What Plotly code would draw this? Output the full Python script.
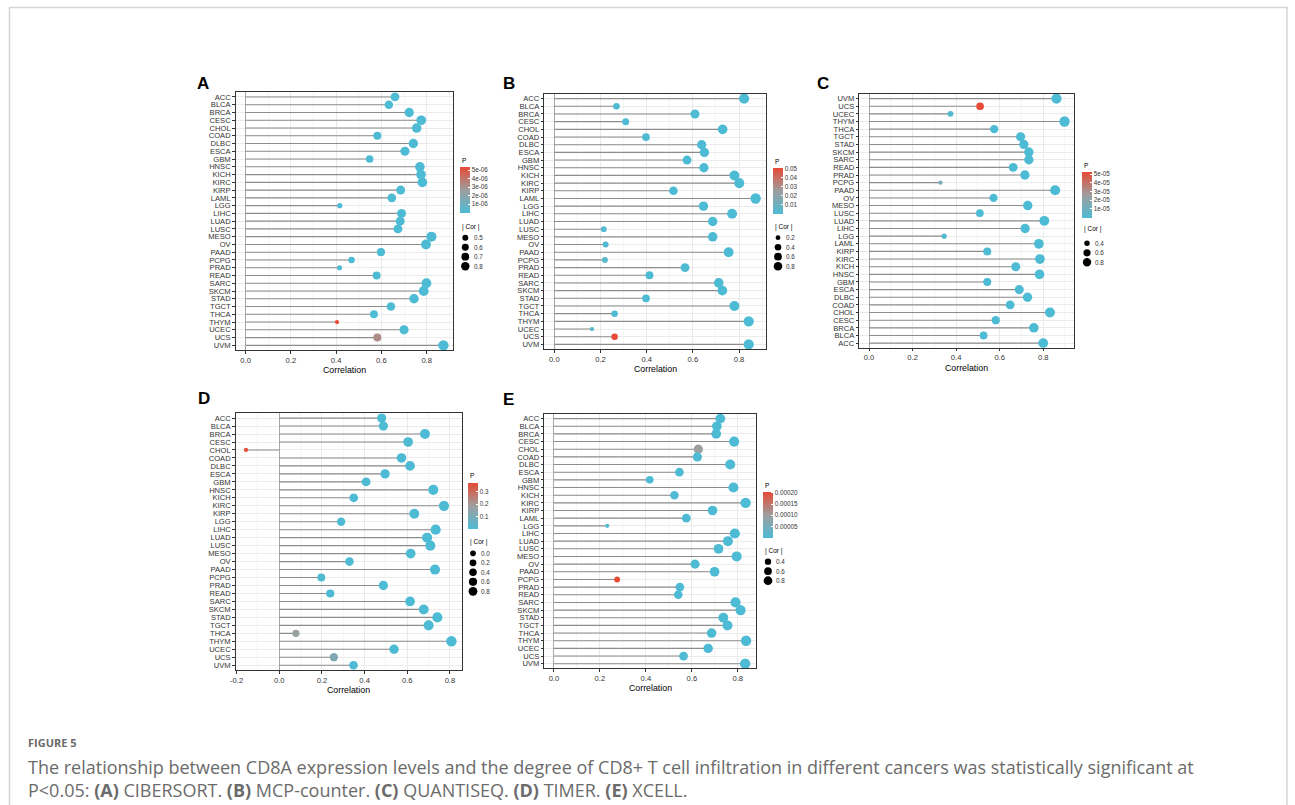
import plotly.graph_objects as go

W, H = 1295, 805
FONT = "Liberation Sans, Arial, Helvetica, sans-serif"
CAP_FONT = "Open Sans, sans-serif"

# ---------------- data ----------------
cats_A = ["ACC", "BLCA", "BRCA", "CESC", "CHOL", "COAD", "DLBC", "ESCA", "GBM", "HNSC", "KICH",
          "KIRC", "KIRP", "LAML", "LGG", "LIHC", "LUAD", "LUSC", "MESO", "OV", "PAAD", "PCPG",
          "PRAD", "READ", "SARC", "SKCM", "STAD", "TGCT", "THCA", "THYM", "UCEC", "UCS", "UVM"]
cor_A = [0.660, 0.633, 0.723, 0.776, 0.756, 0.582, 0.741, 0.704, 0.548, 0.770, 0.775,
         0.781, 0.685, 0.646, 0.416, 0.689, 0.683, 0.673, 0.821, 0.797, 0.598, 0.468,
         0.415, 0.579, 0.799, 0.787, 0.744, 0.642, 0.567, 0.404, 0.700, 0.582, 0.874]
p_A = [2e-08, 1e-09, 1e-12, 1e-10, 3e-08, 1e-10, 5e-08, 1e-10, 1e-09, 1e-12, 1e-08,
       1e-12, 1e-10, 1e-09, 1e-08, 1e-11, 1e-12, 1e-11, 1e-10, 1e-10, 1e-09, 1e-08,
       1e-08, 1e-09, 1e-11, 1e-12, 1e-12, 1e-09, 1e-10, 5.4e-06, 1e-11, 3.3e-06, 1e-09]

cats_B = ["ACC", "BLCA", "BRCA", "CESC", "CHOL", "COAD", "DLBC", "ESCA", "GBM", "HNSC", "KICH",
          "KIRC", "KIRP", "LAML", "LGG", "LIHC", "LUAD", "LUSC", "MESO", "OV", "PAAD", "PCPG",
          "PRAD", "READ", "SARC", "SKCM", "STAD", "TGCT", "THCA", "THYM", "UCEC", "UCS", "UVM"]
cor_B = [0.822, 0.269, 0.609, 0.309, 0.729, 0.397, 0.638, 0.650, 0.575, 0.648, 0.780,
         0.801, 0.516, 0.872, 0.646, 0.770, 0.686, 0.214, 0.686, 0.222, 0.755, 0.219,
         0.566, 0.412, 0.712, 0.728, 0.397, 0.780, 0.261, 0.842, 0.163, 0.261, 0.842]
p_B = [1e-06, 1e-04, 1e-08, 2e-04, 1e-06, 1e-05, 1e-04, 1e-08, 1e-08, 1e-10, 1e-05,
       1e-10, 1e-08, 1e-10, 1e-10, 1e-10, 1e-10, 2e-03, 1e-08, 1.5e-03, 1e-10, 3e-03,
       1e-10, 1e-05, 1e-10, 1e-10, 1e-08, 1e-10, 1e-04, 1e-10, 4e-03, 0.0507, 1e-10]

cats_C = ["UVM", "UCS", "UCEC", "THYM", "THCA", "TGCT", "STAD", "SKCM", "SARC", "READ", "PRAD",
          "PCPG", "PAAD", "OV", "MESO", "LUSC", "LUAD", "LIHC", "LGG", "LAML", "KIRP", "KIRC",
          "KICH", "HNSC", "GBM", "ESCA", "DLBC", "COAD", "CHOL", "CESC", "BRCA", "BLCA", "ACC"]
cor_C = [0.861, 0.510, 0.374, 0.898, 0.575, 0.696, 0.711, 0.734, 0.734, 0.662, 0.716,
         0.328, 0.855, 0.572, 0.729, 0.509, 0.805, 0.717, 0.345, 0.780, 0.543, 0.785,
         0.674, 0.783, 0.543, 0.690, 0.728, 0.648, 0.831, 0.582, 0.757, 0.526, 0.800]
p_C = [1e-09, 5.27e-05, 2e-06, 1e-10, 1e-08, 1e-09, 1e-10, 1e-10, 1e-10, 1e-08, 1e-10,
       1.4e-05, 1e-10, 1e-09, 1e-09, 1e-10, 1e-10, 1e-10, 3e-06, 1e-10, 1e-09, 1e-10,
       1e-08, 1e-10, 1e-10, 1e-10, 1e-09, 1e-10, 1e-09, 1e-10, 1e-10, 1e-10, 1e-08]

cats_D = ["ACC", "BLCA", "BRCA", "CESC", "CHOL", "COAD", "DLBC", "ESCA", "GBM", "HNSC", "KICH",
          "KIRC", "KIRP", "LGG", "LIHC", "LUAD", "LUSC", "MESO", "OV", "PAAD", "PCPG",
          "PRAD", "READ", "SARC", "SKCM", "STAD", "TGCT", "THCA", "THYM", "UCEC", "UCS", "UVM"]
cor_D = [0.480, 0.488, 0.683, 0.604, -0.156, 0.573, 0.613, 0.496, 0.407, 0.722, 0.349,
         0.772, 0.633, 0.290, 0.733, 0.693, 0.708, 0.616, 0.329, 0.730, 0.197,
         0.488, 0.239, 0.613, 0.677, 0.741, 0.700, 0.078, 0.807, 0.538, 0.256, 0.348]
p_D = [1e-05, 1e-05, 1e-08, 1e-06, 0.375, 1e-06, 1e-04, 1e-05, 1e-04, 1e-10, 1e-03,
       1e-10, 1e-08, 1e-03, 1e-10, 1e-10, 1e-10, 1e-04, 2e-03, 1e-10, 8e-03,
       1e-06, 5e-03, 1e-06, 1e-10, 1e-10, 1e-08, 0.17, 1e-10, 1e-08, 0.12, 4e-03]

cats_E = ["ACC", "BLCA", "BRCA", "CESC", "CHOL", "COAD", "DLBC", "ESCA", "GBM", "HNSC", "KICH",
          "KIRC", "KIRP", "LAML", "LGG", "LIHC", "LUAD", "LUSC", "MESO", "OV", "PAAD", "PCPG",
          "PRAD", "READ", "SARC", "SKCM", "STAD", "TGCT", "THCA", "THYM", "UCEC", "UCS", "UVM"]
cor_E = [0.724, 0.709, 0.706, 0.784, 0.628, 0.624, 0.767, 0.546, 0.417, 0.781, 0.524,
         0.834, 0.690, 0.576, 0.232, 0.787, 0.757, 0.716, 0.795, 0.614, 0.699, 0.275,
         0.548, 0.541, 0.790, 0.812, 0.737, 0.755, 0.686, 0.836, 0.671, 0.564, 0.832]
p_E = [1e-07, 1e-08, 1e-09, 1e-10, 1.0e-04, 1e-08, 1e-06, 1e-08, 1e-07, 1e-10, 1e-06,
       1e-10, 1e-08, 1e-08, 2e-06, 1e-10, 1e-10, 1e-10, 1e-08, 1e-08, 1e-10, 2.05e-04,
       1e-10, 1e-08, 1e-10, 1e-10, 1e-10, 1e-08, 1e-10, 1e-10, 1e-10, 1e-06, 1e-10]

x_ticks = [-0.2, 0.0, 0.2, 0.4, 0.6, 0.8]
x_tick_labels = ["-0.2", "0.0", "0.2", "0.4", "0.6", "0.8"]
x_minor = [-0.1, 0.1, 0.3, 0.5, 0.7, 0.9]

p_ticks_A = [1e-06, 2e-06, 3e-06, 4e-06, 5e-06]
p_labels_A = ["1e-06", "2e-06", "3e-06", "4e-06", "5e-06"]
p_ticks_B = [0.01, 0.02, 0.03, 0.04, 0.05]
p_labels_B = ["0.01", "0.02", "0.03", "0.04", "0.05"]
p_ticks_C = [1e-05, 2e-05, 3e-05, 4e-05, 5e-05]
p_labels_C = ["1e-05", "2e-05", "3e-05", "4e-05", "5e-05"]
p_ticks_D = [0.1, 0.2, 0.3]
p_labels_D = ["0.1", "0.2", "0.3"]
p_ticks_E = [0.00005, 0.00010, 0.00015, 0.00020]
p_labels_E = ["0.00005", "0.00010", "0.00015", "0.00020"]

size_breaks_A = [0.5, 0.6, 0.7, 0.8]
size_breaks_B = [0.2, 0.4, 0.6, 0.8]
size_breaks_C = [0.4, 0.6, 0.8]
size_breaks_D = [0.0, 0.2, 0.4, 0.6, 0.8]
size_breaks_E = [0.4, 0.6, 0.8]
size_labels_A = ["0.5", "0.6", "0.7", "0.8"]
size_labels_B = ["0.2", "0.4", "0.6", "0.8"]
size_labels_C = ["0.4", "0.6", "0.8"]
size_labels_D = ["0.0", "0.2", "0.4", "0.6", "0.8"]
size_labels_E = ["0.4", "0.6", "0.8"]

panel_letters = ["A", "B", "C", "D", "E"]

# ---------------- layout geometry (pixels) ----------------
panels = [
    dict(cats=cats_A, cor=cor_A, p=p_A, pt=p_ticks_A, pl=p_labels_A, sb=size_breaks_A, sl=size_labels_A,
         box=(235.7, 92.3, 453.3, 350.0), letter=(195, 83.5), leg=(460.0, 160.7, 166.7, 226.7, 237.7)),
    dict(cats=cats_B, cor=cor_B, p=p_B, pt=p_ticks_B, pl=p_labels_B, sb=size_breaks_B, sl=size_labels_B,
         box=(544.3, 94.0, 765.7, 349.0), letter=(501, 84), leg=(772.7, 161.7, 167.7, 226.7, 237.7)),
    dict(cats=cats_C, cor=cor_C, p=p_C, pt=p_ticks_C, pl=p_labels_C, sb=size_breaks_C, sl=size_labels_C,
         box=(859.3, 94.0, 1074.3, 347.7), letter=(815, 84), leg=(1081.7, 165.0, 171.7, 229.3, 243.3)),
    dict(cats=cats_D, cor=cor_D, p=p_D, pt=p_ticks_D, pl=p_labels_D, sb=size_breaks_D, sl=size_labels_D,
         box=(235.7, 413.3, 461.7, 670.0), letter=(196, 398), leg=(467.7, 475.0, 482.7, 541.7, 553.3)),
    dict(cats=cats_E, cor=cor_E, p=p_E, pt=p_ticks_E, pl=p_labels_E, sb=size_breaks_E, sl=size_labels_E,
         box=(544.3, 414.0, 755.7, 668.3), letter=(501, 399), leg=(762.7, 485.0, 491.7, 550.7, 561.7)),
]

COLORSCALE = [[0.0, "#4EBBD5"], [0.5, "#9E9E9E"], [1.0, "#E64B35"]]
DMIN, DMAX = 4.2, 10.4
LEG_FACTOR = 0.85
TXT = "#333333"


def fx(px):
    return px / W


def fy(py):
    return 1 - py / H


def size_of(v, vmin, vmax):
    f = (v - vmin) / (vmax - vmin)
    f = min(max(f, 0.0), 1.0)
    return DMIN + (DMAX - DMIN) * f ** 0.5


fig = go.Figure()
shapes = []
annotations = []
layout_axes = {}

for i, pn in enumerate(panels):
    k = i + 1
    xa = "x" if k == 1 else f"x{k}"
    ya = "y" if k == 1 else f"y{k}"
    xname = "xaxis" if k == 1 else f"xaxis{k}"
    yname = "yaxis" if k == 1 else f"yaxis{k}"
    cats, cor, pv = pn["cats"], pn["cor"], pn["p"]
    vmin, vmax = min(cor), max(cor)
    lo, hi = min(0.0, vmin), max(0.0, vmax)
    span = hi - lo
    xr = [lo - 0.05 * span, hi + 0.05 * span]
    n = len(cats)

    # stems
    sx, sy = [], []
    for c, v in zip(cats, cor):
        sx += [0, v, None]
        sy += [c, c, None]
    fig.add_trace(go.Scatter(x=sx, y=sy, mode="lines", xaxis=xa, yaxis=ya,
                             line=dict(color="#8C8C8C", width=1.1), hoverinfo="skip", showlegend=False))

    # points
    L, T0, CBT, CORT, D0 = pn["leg"]
    fig.add_trace(go.Scatter(
        x=cor, y=cats, mode="markers", xaxis=xa, yaxis=ya, showlegend=False,
        marker=dict(size=[size_of(v, vmin, vmax) for v in cor], color=pv, cmin=min(pv), cmax=max(pv),
                    colorscale=COLORSCALE, opacity=1, line=dict(width=0),
                    showscale=True,
                    colorbar=dict(x=fx(L), xanchor="left", y=fy(CBT), yanchor="top",
                                  len=45.5, lenmode="pixels", thickness=10, thicknessmode="pixels",
                                  outlinewidth=0, xpad=0, ypad=0, ticks="inside", ticklen=2,
                                  tickcolor="white", tickwidth=1, tickvals=pn["pt"], ticktext=pn["pl"],
                                  tickfont=dict(size=6.3, color=TXT, family=FONT)))))

    x0, y0, x1, y1 = pn["box"]
    layout_axes[xname] = dict(
        domain=[fx(x0), fx(x1)], anchor=ya, range=xr, tickmode="array", tickvals=x_ticks, ticktext=x_tick_labels,
        showgrid=True, gridcolor="#EBEBEB", gridwidth=1,
        minor=dict(tickvals=x_minor, showgrid=True, gridcolor="#F5F5F5", gridwidth=1),
        zeroline=True, zerolinecolor="#A8A8A8", zerolinewidth=1,
        showline=True, mirror=True, linecolor="#333333", linewidth=1,
        ticks="outside", ticklen=2.5, tickcolor="#333333", tickwidth=1,
        tickfont=dict(size=7.6, color=TXT, family=FONT), fixedrange=True)
    layout_axes[yname] = dict(
        domain=[fy(y1), fy(y0)], anchor=xa, type="category", categoryorder="array", categoryarray=cats,
        tickmode="array", tickvals=cats, ticktext=cats,
        range=[n - 1 + 0.6, -0.6], showgrid=True, gridcolor="#EBEBEB", gridwidth=1,
        showline=True, mirror=True, linecolor="#333333", linewidth=1,
        ticks="outside", ticklen=2.5, tickcolor="#333333", tickwidth=1,
        tickfont=dict(size=7.6, color=TXT, family=FONT), fixedrange=True)

    # axis title & panel letter
    annotations.append(dict(text="Correlation", x=fx((x0 + x1) / 2), y=fy(y1 + 20), xref="paper", yref="paper",
                            xanchor="center", yanchor="middle", showarrow=False,
                            font=dict(size=8.8, color="black", family=FONT)))
    lx, ly = pn["letter"]
    annotations.append(dict(text=f"<b>{panel_letters[i]}</b>", x=fx(lx), y=fy(ly), xref="paper", yref="paper",
                            xanchor="left", yanchor="middle", showarrow=False,
                            font=dict(size=17, color="black", family=FONT)))
    # legend titles
    annotations.append(dict(text="P", x=fx(L), y=fy(T0), xref="paper", yref="paper", xanchor="left",
                            yanchor="middle", showarrow=False, font=dict(size=6.5, color="black", family=FONT)))
    annotations.append(dict(text="| Cor |", x=fx(L), y=fy(CORT), xref="paper", yref="paper", xanchor="left",
                            yanchor="middle", showarrow=False, font=dict(size=6.5, color="black", family=FONT)))
    # size legend keys
    for j, (b, lab) in enumerate(zip(pn["sb"], pn["sl"])):
        cy = D0 + j * 9.5
        cx = L + 5.3
        r = size_of(b, vmin, vmax) * LEG_FACTOR / 2
        shapes.append(dict(type="circle", xref="paper", yref="paper", xsizemode="pixel", ysizemode="pixel",
                           xanchor=fx(cx), yanchor=fy(cy), x0=-r, x1=r, y0=-r, y1=r,
                           fillcolor="black", line=dict(width=0)))
        annotations.append(dict(text=lab, x=fx(L + 11.5), y=fy(cy), xref="paper", yref="paper",
                                xanchor="left", yanchor="middle", showarrow=False,
                                font=dict(size=6.3, color=TXT, family=FONT)))

# outer frame
shapes.append(dict(type="rect", xref="paper", yref="paper", x0=fx(9.5), y0=fy(7.5), x1=fx(1287), y1=fy(815),
                   line=dict(color="#D5D5D5", width=1.5), fillcolor="rgba(0,0,0,0)", layer="below"))

# caption
CAP_COLOR = "#6B6B6B"
CAP_X = 26
annotations.append(dict(text="<b>FIGURE 5</b>", x=fx(CAP_X), y=fy(742), xref="paper", yref="paper",
                        xanchor="left", yanchor="middle", showarrow=False,
                        font=dict(size=11, color=CAP_COLOR, family=CAP_FONT)))
annotations.append(dict(
    text="The relationship between CD8A expression levels and the degree of CD8+ T cell infiltration in different cancers was statistically significant at"
         "<br>P&lt;0.05: <b>(A)</b> CIBERSORT. <b>(B)</b> MCP-counter. <b>(C)</b> QUANTISEQ. <b>(D)</b> TIMER. <b>(E)</b> XCELL.",
    x=fx(CAP_X), y=fy(778.5), xref="paper", yref="paper", xanchor="left", yanchor="middle", align="left",
    showarrow=False, font=dict(size=18, color=CAP_COLOR, family=CAP_FONT)))

fig.update_layout(
    width=W, height=H, margin=dict(l=0, r=0, t=0, b=0, autoexpand=False),
    paper_bgcolor="white", plot_bgcolor="white", showlegend=False,
    shapes=shapes, annotations=annotations, font=dict(family=FONT), **layout_axes)

fig.write_html("out.html", include_plotlyjs=True, config={"displayModeBar": False, "responsive": False})
